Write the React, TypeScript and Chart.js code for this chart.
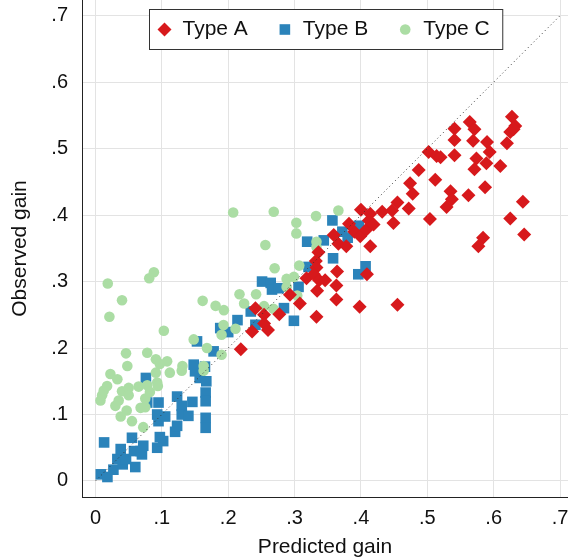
import React, { useEffect, useRef } from 'react';
import { Chart, registerables } from 'chart.js';

Chart.register(...registerables);

const seriesNames = ['Type A', 'Type B', 'Type C'];
const seriesColors = ['#d7191c', '#2b83ba', '#abdda4'];
const seriesShapes = ['rectRot', 'rect', 'circle'];

const typeAPoints: number[][] = [
  [0.219, 0.198], [0.236, 0.225], [0.241, 0.26], [0.254, 0.25], [0.254, 0.237], [0.26, 0.227],
  [0.277, 0.251], [0.293, 0.28], [0.308, 0.267], [0.333, 0.247], [0.318, 0.305], [0.336, 0.344],
  [0.332, 0.331], [0.333, 0.321], [0.329, 0.311], [0.337, 0.302], [0.346, 0.302], [0.334, 0.286],
  [0.359, 0.37], [0.366, 0.357], [0.378, 0.353], [0.382, 0.387], [0.39, 0.375], [0.399, 0.368],
  [0.408, 0.378], [0.4, 0.408], [0.414, 0.402], [0.412, 0.392], [0.419, 0.386], [0.414, 0.353],
  [0.432, 0.405], [0.447, 0.407], [0.455, 0.419], [0.449, 0.388], [0.472, 0.41], [0.474, 0.448],
  [0.478, 0.432], [0.487, 0.468], [0.512, 0.453], [0.504, 0.394], [0.364, 0.315], [0.409, 0.311],
  [0.363, 0.294], [0.363, 0.273], [0.398, 0.262], [0.455, 0.265], [0.6275, 0.548], [0.6325, 0.534],
  [0.625, 0.525], [0.63, 0.529], [0.62, 0.508], [0.564, 0.54], [0.571, 0.529], [0.541, 0.53],
  [0.541, 0.513], [0.569, 0.512], [0.59, 0.51], [0.594, 0.495], [0.574, 0.485], [0.589, 0.478],
  [0.571, 0.469], [0.61, 0.474], [0.541, 0.49], [0.502, 0.495], [0.514, 0.489], [0.52, 0.487],
  [0.535, 0.436], [0.537, 0.424], [0.529, 0.412], [0.562, 0.43], [0.587, 0.442], [0.644, 0.42],
  [0.625, 0.395], [0.646, 0.371], [0.584, 0.366], [0.577, 0.353],
];

const typeBPoints: number[][] = [
  [0.008, 0.01], [0.018, 0.006], [0.013, 0.058], [0.027, 0.017], [0.033, 0.033], [0.038, 0.048],
  [0.041, 0.025], [0.046, 0.033], [0.055, 0.065], [0.06, 0.021], [0.058, 0.045], [0.068, 0.045],
  [0.072, 0.053], [0.07, 0.04], [0.076, 0.155], [0.078, 0.118], [0.095, 0.118], [0.093, 0.1],
  [0.095, 0.09], [0.105, 0.097], [0.093, 0.05], [0.102, 0.06], [0.097, 0.066], [0.12, 0.074],
  [0.123, 0.083], [0.123, 0.127], [0.13, 0.113], [0.13, 0.1], [0.14, 0.098], [0.146, 0.119],
  [0.15, 0.165], [0.157, 0.155], [0.167, 0.15], [0.166, 0.133], [0.166, 0.12], [0.166, 0.095],
  [0.166, 0.08], [0.153, 0.21], [0.178, 0.195], [0.148, 0.175], [0.165, 0.172], [0.188, 0.23],
  [0.2, 0.224], [0.214, 0.242], [0.234, 0.255], [0.241, 0.235], [0.251, 0.3], [0.264, 0.298],
  [0.266, 0.288], [0.276, 0.29], [0.284, 0.26], [0.299, 0.241], [0.306, 0.292], [0.319, 0.36],
  [0.321, 0.322], [0.344, 0.362], [0.357, 0.392], [0.358, 0.335], [0.372, 0.375], [0.38, 0.366],
  [0.397, 0.384], [0.407, 0.323], [0.396, 0.311],
];

const typeCPoints: number[][] = [
  [0.0075, 0.121], [0.01, 0.129], [0.0125, 0.136], [0.0175, 0.143], [0.0225, 0.161], [0.033, 0.153],
  [0.03, 0.113], [0.035, 0.121], [0.04, 0.135], [0.046, 0.192], [0.048, 0.173], [0.05, 0.14],
  [0.05, 0.129], [0.047, 0.106], [0.038, 0.097], [0.055, 0.09], [0.065, 0.142], [0.072, 0.081],
  [0.068, 0.11], [0.075, 0.111], [0.075, 0.124], [0.078, 0.193], [0.078, 0.144], [0.082, 0.134],
  [0.091, 0.183], [0.097, 0.176], [0.108, 0.18], [0.091, 0.163], [0.093, 0.148], [0.094, 0.143],
  [0.112, 0.163], [0.131, 0.173], [0.13, 0.166], [0.163, 0.173], [0.163, 0.166], [0.103, 0.226],
  [0.148, 0.213], [0.168, 0.2], [0.19, 0.22], [0.19, 0.19], [0.211, 0.229], [0.2075, 0.404],
  [0.2686, 0.405], [0.3027, 0.3885], [0.3027, 0.3725], [0.3323, 0.3985], [0.366, 0.407], [0.256, 0.355],
  [0.333, 0.36], [0.333, 0.352], [0.307, 0.324], [0.27, 0.32], [0.288, 0.304], [0.299, 0.307],
  [0.288, 0.292], [0.304, 0.279], [0.217, 0.281], [0.242, 0.281], [0.224, 0.267], [0.254, 0.263],
  [0.268, 0.259], [0.181, 0.2635], [0.1935, 0.257], [0.1615, 0.271], [0.193, 0.2345], [0.088, 0.314],
  [0.081, 0.305], [0.0185, 0.297], [0.04, 0.272], [0.021, 0.247],
];

const diagonalPoints: number[][] = [[0, 0], [0.7, 0.7]];

const tickValues = [0, 0.1, 0.2, 0.3, 0.4, 0.5, 0.6, 0.7];
const tickLabels = ['0', '.1', '.2', '.3', '.4', '.5', '.6', '.7'];

const xTitle = 'Predicted gain';
const yTitle = 'Observed gain';

const FONT = "'Liberation Sans', Arial, Helvetica, sans-serif";

function labelFor(v: number): string {
  const i = tickValues.findIndex((t) => Math.abs(t - v) < 1e-9);
  return i >= 0 ? tickLabels[i] : '';
}

function toXY(arr: number[][]) {
  return arr.map(([x, y]) => ({ x, y }));
}

function drawMarker(ctx: CanvasRenderingContext2D, shape: string, x: number, y: number, color: string) {
  ctx.fillStyle = color;
  ctx.beginPath();
  if (shape === 'rectRot') {
    const r = 7;
    ctx.moveTo(x - r, y);
    ctx.lineTo(x, y - r);
    ctx.lineTo(x + r, y);
    ctx.lineTo(x, y + r);
    ctx.closePath();
  } else if (shape === 'rect') {
    const h = 5.3;
    ctx.rect(x - h, y - h, 2 * h, 2 * h);
  } else {
    ctx.arc(x, y, 5.3, 0, Math.PI * 2);
  }
  ctx.fill();
}

const boxLegend = {
  id: 'boxLegend',
  afterDraw(chart: any) {
    const ctx: CanvasRenderingContext2D = chart.ctx;
    ctx.save();
    ctx.font = `21px ${FONT}`;
    ctx.textBaseline = 'middle';
    ctx.textAlign = 'left';
    const boxLeft = 149.5;
    const boxTop = 9.5;
    const boxH = 40;
    const cy = boxTop + boxH / 2;
    let cursor = boxLeft + 15;
    const items: { mx: number; tx: number; w: number }[] = [];
    seriesNames.forEach((name) => {
      const w = ctx.measureText(name).width;
      items.push({ mx: cursor, tx: cursor + 18, w });
      cursor = cursor + 18 + w + 37;
    });
    const last = items[items.length - 1];
    const boxRight = last.tx + last.w + 13;
    ctx.fillStyle = '#ffffff';
    ctx.fillRect(boxLeft, boxTop, boxRight - boxLeft, boxH);
    ctx.strokeStyle = '#333333';
    ctx.lineWidth = 1;
    ctx.strokeRect(boxLeft, boxTop, boxRight - boxLeft, boxH);
    items.forEach((it, i) => {
      drawMarker(ctx, seriesShapes[i], it.mx, cy, seriesColors[i]);
      ctx.fillStyle = '#111111';
      ctx.fillText(seriesNames[i], it.tx, cy);
    });
    ctx.restore();
  },
};

function zeroPadding(axis: any) {
  axis.paddingTop = 0;
  axis.paddingBottom = 0;
  axis.paddingLeft = 0;
  axis.paddingRight = 0;
}

export default function App() {
  const canvasRef = useRef<HTMLCanvasElement | null>(null);

  useEffect(() => {
    if (!canvasRef.current) return;
    Chart.defaults.font.family = FONT;
    const chart = new Chart(canvasRef.current, {
      type: 'scatter',
      data: {
        datasets: [
          {
            label: seriesNames[0],
            data: toXY(typeAPoints),
            backgroundColor: seriesColors[0],
            borderColor: seriesColors[0],
            borderWidth: 0,
            pointStyle: 'rectRot',
            pointRadius: 7,
            order: 0,
          },
          {
            label: seriesNames[2],
            data: toXY(typeCPoints),
            backgroundColor: seriesColors[2],
            borderColor: seriesColors[2],
            borderWidth: 0,
            pointStyle: 'circle',
            pointRadius: 5.3,
            order: 1,
          },
          {
            label: seriesNames[1],
            data: toXY(typeBPoints),
            backgroundColor: seriesColors[1],
            borderColor: seriesColors[1],
            borderWidth: 0,
            pointStyle: 'rect',
            pointRadius: 7.5,
            order: 2,
          },
          {
            type: 'line',
            label: 'diag',
            data: toXY(diagonalPoints),
            borderColor: '#333333',
            borderWidth: 1,
            borderDash: [1, 3],
            pointRadius: 0,
            showLine: true,
            fill: false,
            order: -1,
          } as any,
        ],
      },
      options: {
        animation: false,
        responsive: false,
        maintainAspectRatio: false,
        layout: { padding: 0, autoPadding: false },
        plugins: {
          legend: { display: false },
          tooltip: { enabled: false },
        },
        scales: {
          x: {
            type: 'linear',
            min: -0.0203,
            max: 0.712,
            afterBuildTicks: (axis: any) => {
              axis.ticks = tickValues.map((v) => ({ value: v }));
            },
            afterFit: (axis: any) => {
              axis.height = 61;
              zeroPadding(axis);
            },
            grid: { color: '#e3e3e3', lineWidth: 1, drawTicks: false },
            border: { color: '#222222', width: 1 },
            ticks: {
              padding: 9,
              color: '#111111',
              font: { size: 20 },
              maxRotation: 0,
              autoSkip: false,
              callback: (v: any) => labelFor(Number(v)),
            },
            title: {
              display: true,
              text: xTitle,
              color: '#111111',
              font: { size: 21, lineHeight: 1 },
              padding: { top: 0, bottom: 0 },
            },
          },
          y: {
            type: 'linear',
            min: -0.0241,
            max: 0.7236,
            afterBuildTicks: (axis: any) => {
              axis.ticks = tickValues.map((v) => ({ value: v }));
            },
            afterFit: (axis: any) => {
              axis.width = 82;
              zeroPadding(axis);
            },
            grid: { color: '#e3e3e3', lineWidth: 1, drawTicks: false },
            border: { color: '#222222', width: 1 },
            ticks: {
              padding: 14,
              color: '#111111',
              font: { size: 20 },
              autoSkip: false,
              callback: (v: any) => labelFor(Number(v)),
            },
            title: {
              display: true,
              text: yTitle,
              color: '#111111',
              font: { size: 21, lineHeight: 1 },
              padding: { top: 10, bottom: 0 },
            },
          },
        },
      },
      plugins: [boxLegend],
    });
    return () => chart.destroy();
  }, []);

  return (
    <div style={{ position: 'absolute', left: 0, top: 0, width: 568, height: 558 }}>
      <canvas ref={canvasRef} width={568} height={558} style={{ display: 'block' }} />
    </div>
  );
}
